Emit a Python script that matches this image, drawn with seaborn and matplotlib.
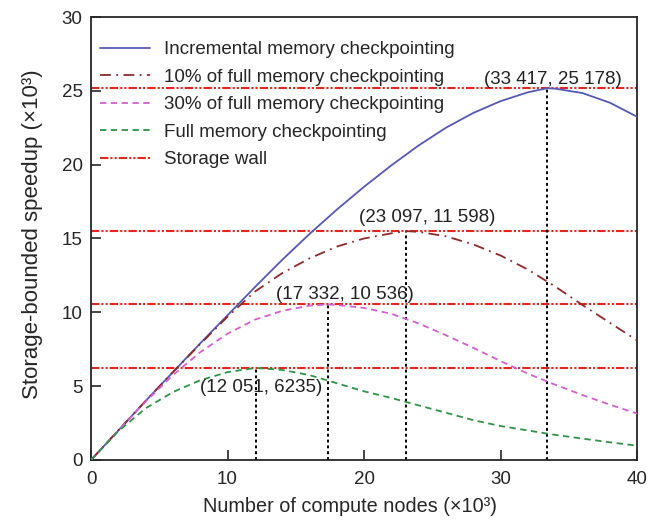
import numpy as np
import pandas as pd
import matplotlib
matplotlib.use('Agg')
import matplotlib.pyplot as plt
import seaborn as sns

sns.set_style('ticks')
plt.rcParams['font.family'] = ['Liberation Sans', 'DejaVu Sans']
plt.rcParams['font.size'] = 13.5

# values (x10^3)
x_incr = [0, 2, 4, 6, 8, 10, 12, 14, 16, 18, 20, 22, 24, 26, 28, 30, 32, 33.417, 34, 36, 38, 40]
y_incr = [0, 2.0, 4.0, 5.95, 7.9, 9.8, 11.7, 13.55, 15.3, 16.95, 18.5, 19.95, 21.3, 22.5, 23.5, 24.3, 24.9, 25.178, 25.15, 24.85, 24.2, 23.25]

x_p10 = [0, 2, 4, 6, 8, 10, 12, 14, 16, 18, 20, 22, 23.097, 24, 26, 28, 30, 32, 34, 36, 38, 40]
y_p10 = [0, 2.0, 4.0, 5.95, 7.85, 9.7, 11.4, 12.65, 13.65, 14.45, 15.0, 15.35, 15.5, 15.45, 15.15, 14.6, 13.85, 12.9, 11.75, 10.5, 9.3, 8.1]

x_p30 = [0, 2, 4, 6, 8, 10, 12, 14, 16, 17.332, 18, 20, 22, 24, 26, 28, 30, 32, 34, 36, 38, 40]
y_p30 = [0, 2.0, 3.95, 5.75, 7.3, 8.55, 9.5, 10.1, 10.45, 10.536, 10.5, 10.3, 9.9, 9.25, 8.45, 7.6, 6.7, 5.85, 5.1, 4.4, 3.75, 3.15]

x_full = [0, 2, 4, 6, 8, 10, 12.051, 14, 16, 18, 20, 22, 24, 26, 28, 30, 32, 34, 36, 38, 40]
y_full = [0, 1.95, 3.5, 4.6, 5.4, 5.95, 6.235, 6.1, 5.75, 5.2, 4.65, 4.2, 3.7, 3.2, 2.7, 2.3, 2.0, 1.7, 1.45, 1.2, 0.97]

walls = [25.178, 15.5, 10.536, 6.235]
peak_x = [33.417, 23.097, 17.332, 12.051]
peak_labels = ['(33 417, 25 178)', '(23 097, 11 598)', '(17 332, 10 536)', '(12 051, 6235)']
label_pos = [(33.8, 25.2), (24.6, 15.85), (18.6, 10.6), (12.45, 4.3)]

fig = plt.figure(figsize=(6.52, 5.2), dpi=100)
ax = fig.add_axes([0.1396, 0.1154, 0.8374, 0.8519])

wall_style = (0, (4, 1, 1, 1, 1, 1))
for i, w in enumerate(walls):
    ax.axhline(w, color='#e8241c', lw=1.5, ls=wall_style, zorder=1,
               label='Storage wall' if i == 0 else None)

for px, w in zip(peak_x, walls):
    ax.plot([px, px], [0, w], color='black', lw=1.4, ls=(0, (1.5, 1.5)), zorder=2)

sns.lineplot(x=x_incr, y=y_incr, ax=ax, color='#5558b4', lw=1.3,
             label='Incremental memory checkpointing', zorder=3)
sns.lineplot(x=x_p10, y=y_p10, ax=ax, color='#8e2a2a', lw=1.3,
             label='10% of full memory checkpointing', zorder=3)
sns.lineplot(x=x_p30, y=y_p30, ax=ax, color='#d35fd0', lw=1.3,
             label='30% of full memory checkpointing', zorder=3)
sns.lineplot(x=x_full, y=y_full, ax=ax, color='#2d9447', lw=1.3,
             label='Full memory checkpointing', zorder=3)
ax.lines[-3].set_linestyle((0, (6, 3, 1, 3)))
ax.lines[-2].set_linestyle((0, (3.5, 2.5)))
ax.lines[-1].set_linestyle((0, (3.5, 2.5)))

for txt, (tx, ty) in zip(peak_labels, label_pos):
    ax.text(tx, ty, txt, ha='center', va='bottom', fontsize=13.5, color='#222222')

ax.set_xlim(0, 40)
ax.set_ylim(0, 30)
ax.set_xticks([0, 10, 20, 30, 40])
ax.set_yticks([0, 5, 10, 15, 20, 25, 30])
ax.tick_params(direction='in', length=7, width=1.2, labelsize=13.5)
ax.tick_params(axis='x', pad=8)
ax.tick_params(axis='y', pad=6)
for s in ax.spines.values():
    s.set_linewidth(1.3)
ax.set_xlabel('Number of compute nodes (×10³)', fontsize=14.3)
ax.set_ylabel('Storage-bounded speedup (×10³)', fontsize=16)
ax.xaxis.set_label_coords(0.474, -0.0835)
ax.yaxis.set_label_coords(-0.088, 0.51)

handles, labels = ax.get_legend_handles_labels()
order = [labels.index(l) for l in ['Incremental memory checkpointing',
                                   '10% of full memory checkpointing',
                                   '30% of full memory checkpointing',
                                   'Full memory checkpointing',
                                   'Storage wall']]
ax.legend([handles[i] for i in order], [labels[i] for i in order],
          loc='upper left', bbox_to_anchor=(-0.008, 0.975), frameon=False,
          fontsize=13.5, handlelength=2.7, labelspacing=0.55,
          borderaxespad=0.3, handletextpad=0.7)

fig.savefig('out.png', dpi=100)
